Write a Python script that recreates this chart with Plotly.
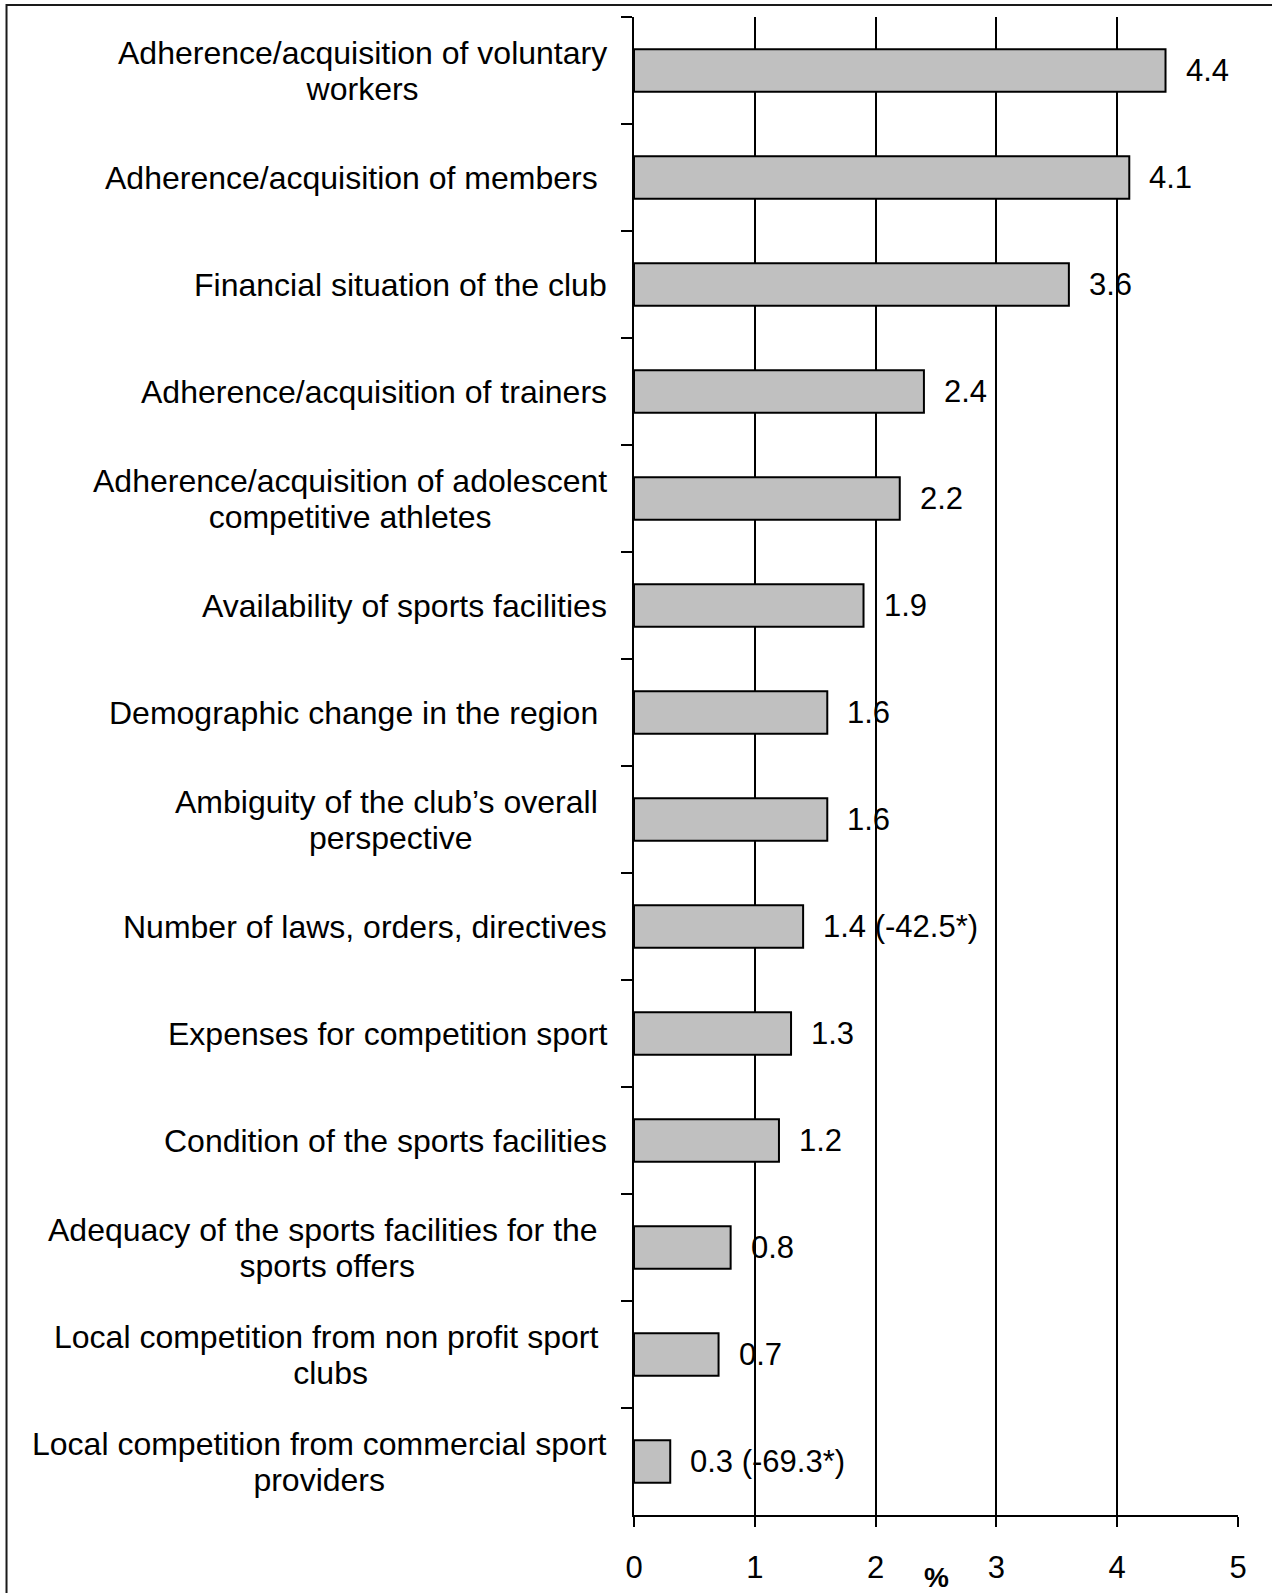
import plotly.graph_objects as go

# Problem areas rated by sport clubs (share in %), listed top to bottom
categories = [
    "Adherence/acquisition of voluntary<br>workers",
    "Adherence/acquisition of members\u00a0",
    "Financial situation of the club",
    "Adherence/acquisition of trainers",
    "Adherence/acquisition of adolescent<br>competitive athletes",
    "Availability of sports facilities",
    "Demographic change in the region\u00a0",
    "Ambiguity of the club\u2019s overall\u00a0<br>perspective",
    "Number of laws, orders, directives",
    "Expenses for competition sport",
    "Condition of the sports facilities",
    "Adequacy of the sports facilities for the\u00a0<br>sports offers",
    "Local competition from non profit sport\u00a0<br>clubs",
    "Local competition from commercial sport<br>providers",
]
values = [4.4, 4.1, 3.6, 2.4, 2.2, 1.9, 1.6, 1.6, 1.4, 1.3, 1.2, 0.8, 0.7, 0.3]
notes = ["", "", "", "", "", "", "", "", " (-42.5*)", "", "", "", "", " (-69.3*)"]
x_ticks = [0, 1, 2, 3, 4, 5]
x_title = "%"

W, H = 1272, 1593
M_L, M_R, M_T, M_B = 634, 33.5, 17, 77.5
PW, PH = W - M_L - M_R, H - M_T - M_B
FONT = "Liberation Sans, Arial, sans-serif"
LW = 2

fig = go.Figure(
    go.Bar(
        x=values,
        y=categories,
        orientation="h",
        marker=dict(color="#c0c0c0", line=dict(color="#000000", width=LW)),
        hoverinfo="skip",
    )
)

annotations = []
# category labels: centred lines inside a right-aligned block
for cat in categories:
    lines = cat.split("<br>")
    txt = "<br>".join(f'<span style="font-size:32px">{ln}</span>' for ln in lines)
    annotations.append(dict(
        x=0, y=cat, xref="x", yref="y", text=txt, showarrow=False,
        xanchor="right", yanchor="middle", align="center", xshift=-25,
        font=dict(family=FONT, size=27.4, color="#000000"),
    ))

# value labels to the right of each bar
for cat, v, note in zip(categories, values, notes):
    annotations.append(dict(
        x=v, y=cat, xref="x", yref="y", text=f"{v:.1f}{note}", showarrow=False,
        xanchor="left", yanchor="middle", xshift=18,
        font=dict(family=FONT, size=31, color="#000000"),
    ))

# axis unit
annotations.append(dict(
    x=2.5, y=0, xref="x", yref="paper", text=f"<b>{x_title}</b>", showarrow=False,
    xanchor="center", yanchor="middle", yshift=-62,
    font=dict(family=FONT, size=28, color="#000000"),
))

fig.update_layout(
    width=W, height=H,
    margin=dict(l=M_L, r=M_R, t=M_T, b=M_B, pad=0, autoexpand=False),
    paper_bgcolor="#ffffff", plot_bgcolor="#ffffff",
    showlegend=False,
    bargap=0.605,
    annotations=annotations,
    font=dict(family=FONT, color="#000000"),
    shapes=[dict(
        type="rect", xref="paper", yref="paper", layer="above",
        x0=(6 - M_L) / PW, x1=(W + 20 - M_L) / PW,
        y0=(M_T + PH - (H + 20)) / PH, y1=(M_T + PH - 5) / PH,
        line=dict(color="#1a1a1a", width=2), fillcolor="rgba(0,0,0,0)",
    )],
)

fig.update_xaxes(
    range=[0, 5], tickvals=x_ticks, ticktext=[str(t) for t in x_ticks],
    showgrid=True, gridcolor="#000000", gridwidth=LW,
    showline=True, linecolor="#000000", linewidth=LW,
    ticks="outside", ticklen=10, tickwidth=LW, tickcolor="#000000",
    tickfont=dict(family=FONT, size=31, color="#000000"),
    ticklabelstandoff=14, zeroline=False, fixedrange=True, automargin=False,
)
fig.update_yaxes(
    autorange="reversed", type="category", tickson="boundaries",
    showticklabels=False, showgrid=False,
    showline=True, linecolor="#000000", linewidth=LW,
    ticks="outside", ticklen=11, tickwidth=LW, tickcolor="#000000",
    zeroline=False, fixedrange=True, automargin=False,
)

fig.write_html("out.html")
